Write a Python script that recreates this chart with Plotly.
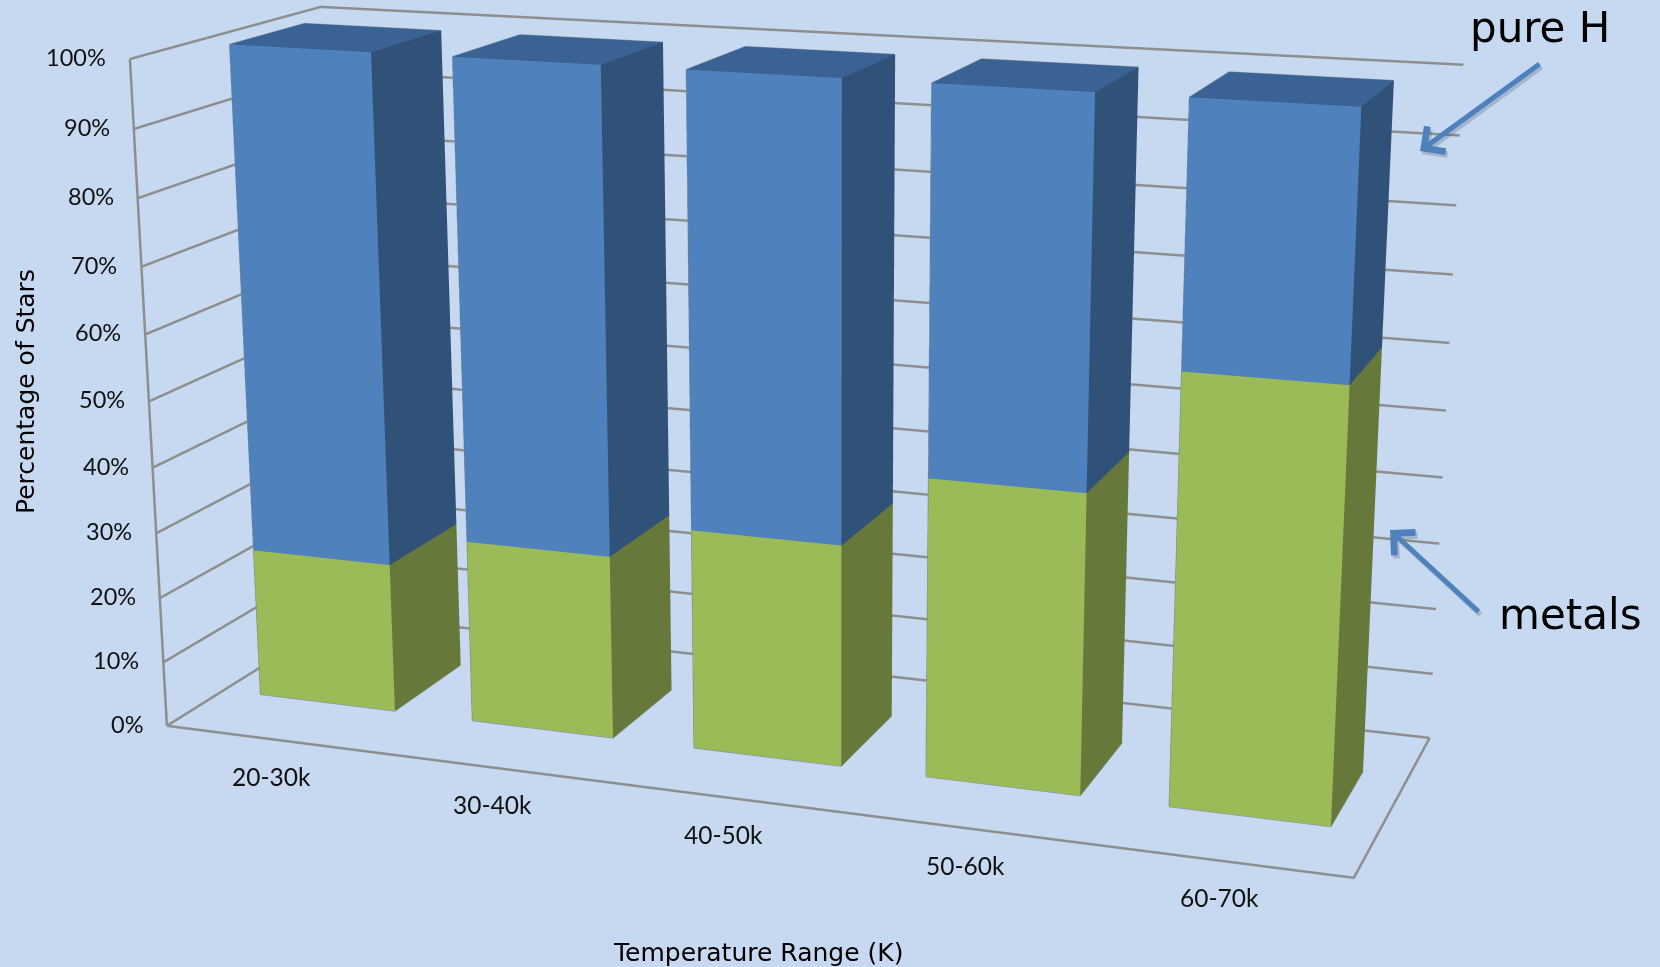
import plotly.graph_objects as go

# Stacked percentages per temperature bin
categories = ["20-30k", "30-40k", "40-50k", "50-60k", "60-70k"]
metals = [23.1, 28.0, 33.3, 44.4, 62.7]
pure_h = [76.9, 72.0, 66.7, 55.6, 37.3]
percent_ticks = [0, 10, 20, 30, 40, 50, 60, 70, 80, 90, 100]

PAGE_W, PAGE_H = 1660, 967
# The scene canvas is taller than the page so that the fixed 45 degree lens reads as a long one
SCENE_H, SCENE_TOP = 2834, -934
BAR_X = (0.176, 0.816)   # bar extent within its category slot
BAR_Y = (0.30, 0.70)     # bar extent along the depth axis
GRID = "#8E8E8E"
BG = "#C6D9F0"


def box(x0, x1, y0, y1, z0, z1):
    return ([x0, x1, x1, x0, x0, x1, x1, x0],
            [y0, y0, y1, y1, y0, y0, y1, y1],
            [z0, z0, z0, z0, z1, z1, z1, z1])


FACES = [(0, 1, 5), (0, 5, 4), (1, 2, 6), (1, 6, 5), (4, 5, 6), (4, 6, 7),
         (0, 3, 7), (0, 7, 4), (3, 2, 6), (3, 6, 7), (0, 1, 2), (0, 2, 3)]


def stack_mesh(name, lows, highs, front, side, top):
    xs, ys, zs, i, j, k, colours = [], [], [], [], [], [], []
    for n, (lo, hi) in enumerate(zip(lows, highs)):
        bx, by, bz = box(n + BAR_X[0], n + BAR_X[1], BAR_Y[0], BAR_Y[1], lo, hi)
        base = len(xs)
        xs += bx; ys += by; zs += bz
        for f, (a, b, c) in enumerate(FACES):
            i.append(base + a); j.append(base + b); k.append(base + c)
            colours.append(front if f < 2 else side if f < 4 else top if f < 6 else side)
    return go.Mesh3d(x=xs, y=ys, z=zs, i=i, j=j, k=k, facecolor=colours, name=name,
                     flatshading=True, hoverinfo="skip",
                     lighting=dict(ambient=1, diffuse=0, specular=0, fresnel=0, roughness=1))


n_cat = len(categories)
tops = [m + h for m, h in zip(metals, pure_h)]

# Gridlines along the left and back walls, then the floor outline and the value axis
wall_x, wall_y, wall_z = [], [], []
for t in percent_ticks:
    wall_x += [0, 0, n_cat, None]; wall_y += [0, 1, 1, None]; wall_z += [t, t, t, None]
wall_x += [0, n_cat, n_cat, None, 0, 0]
wall_y += [0, 0, 1, None, 0, 0]
wall_z += [0, 0, 0, None, percent_ticks[0], percent_ticks[-1]]

# Faint outline around each column: foot, back of the top, outer verticals
edge_x, edge_y, edge_z = [], [], []
for n, top in enumerate(tops):
    x0, x1 = n + BAR_X[0], n + BAR_X[1]
    y0, y1 = BAR_Y
    edge_x += [x0, x1, x1, None, x0, x0, x1, None, x0, x0, None]
    edge_y += [y0, y0, y1, None, y0, y1, y1, None, y0, y0, None]
    edge_z += [0, 0, 0, None, top, top, top, None, 0, top, None]

fig = go.Figure()
fig.add_trace(go.Scatter3d(x=wall_x, y=wall_y, z=wall_z, mode="lines", hoverinfo="skip",
                           line=dict(color=GRID, width=5), showlegend=False))
fig.add_trace(stack_mesh("metals", [0] * n_cat, metals, "#9BBB59", "#67793A", "#7D9647"))
fig.add_trace(stack_mesh("pure H", metals, tops, "#4F81BD", "#305279", "#3A6294"))
fig.add_trace(go.Scatter3d(x=edge_x, y=edge_y, z=edge_z, mode="lines", hoverinfo="skip",
                           line=dict(color="#8A94A0", width=2), showlegend=False))

pct_font = dict(family="Lato", size=23.5, color="#111111")
cat_font = dict(family="Lato", size=24.5, color="#111111")
scene_text = []
for t in percent_ticks:
    scene_text.append(dict(x=0, y=0, z=t, text=f"{t}%", showarrow=False, xanchor="right",
                           yanchor="middle", xshift=-22, yshift=2, font=pct_font))
for n, c in enumerate(categories):
    scene_text.append(dict(x=n + 0.5, y=0, z=0, text=c, showarrow=False, xanchor="center",
                           yanchor="middle", yshift=-37, xshift=-2, font=cat_font))


def page_x(px):
    return px / PAGE_W


def page_y(py):
    return 1 - (py - SCENE_TOP) / SCENE_H


def arrow(tip, tail):
    return [dict(xref="paper", yref="paper", x=page_x(tip[0] + dx), y=page_y(tip[1] + dy),
                 ax=tail[0] - tip[0], ay=tail[1] - tip[1], axref="pixel", ayref="pixel",
                 text="", showarrow=True, arrowhead=4, arrowsize=1.2, arrowwidth=5,
                 arrowcolor=colour, standoff=0)
            for dx, dy, colour in [(2, 3, "rgba(60,75,100,0.25)"), (0, 0, "#4F81BD")]]


label_font = dict(family="DejaVu Sans", size=42, color="#000000")
title_font = dict(family="DejaVu Sans", size=25, color="#000000")


def note(x, y, text, font, angle=0):
    return dict(xref="paper", yref="paper", x=page_x(x), y=page_y(y), text=text, showarrow=False,
                xanchor="center", yanchor="middle", textangle=angle, font=font)


paper_text = [
    note(1540, 27, "pure H", label_font),
    note(1570, 614, "metals", label_font),
    note(25, 392, "Percentage of Stars", title_font, -90),
    note(758, 952, "Temperature Range (K)", title_font),
] + arrow((1420, 151), (1541, 63)) + arrow((1390, 530), (1480, 613))

axis_common = dict(showbackground=False, showticklabels=False, title="", showspikes=False,
                   zeroline=False, showline=False)
fig.update_layout(
    width=PAGE_W, height=SCENE_H, margin=dict(l=0, r=0, t=0, b=0),
    paper_bgcolor=BG, showlegend=False,
    annotations=paper_text,
    scene=dict(
        xaxis=dict(range=[0, n_cat], showgrid=False, **axis_common),
        yaxis=dict(range=[0, 1], showgrid=False, **axis_common),
        zaxis=dict(range=[percent_ticks[0], percent_ticks[-1]], tickvals=percent_ticks,
                   showgrid=False, **axis_common),
        aspectmode="manual", aspectratio=dict(x=1.7881, y=0.5762, z=1),
        camera=dict(eye=dict(x=1.6488, y=-4.5058, z=1.2286),
                    center=dict(x=0.0613, y=-0.0176, z=-0.1054),
                    up=dict(x=-0.0014, y=-0.0040, z=1)),
        annotations=scene_text,
    ),
)

fig.write_html(
    "out.html",
    post_script=(
        "var g=document.getElementById('{plot_id}');"
        "g.style.position='fixed';g.style.left='0px';g.style.top='%dpx';"
        "document.body.style.overflow='hidden';" % SCENE_TOP
    ),
)
